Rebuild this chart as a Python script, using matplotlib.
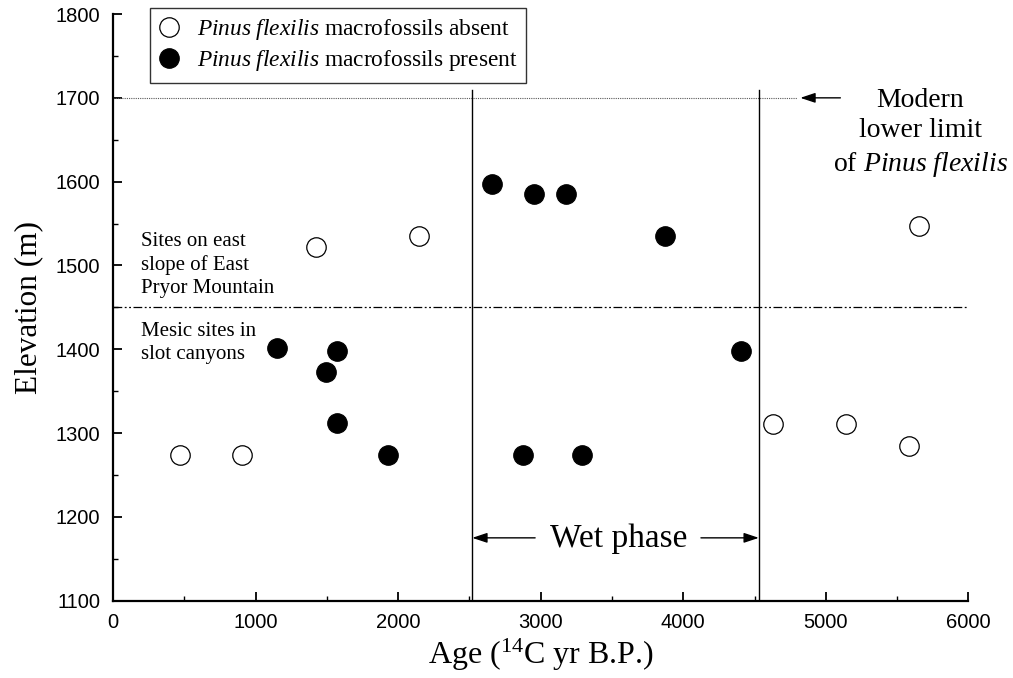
import matplotlib
matplotlib.use("Agg")
import matplotlib.pyplot as plt
from matplotlib.lines import Line2D

# ---- data ----
absent_age = [470, 905, 1425, 2147, 4632, 5144, 5581, 5656]
absent_elev = [1274, 1274, 1522, 1535, 1311, 1311, 1284, 1547]
present_age = [1149, 1570, 1495, 1570, 1930, 2662, 2954, 3177, 3869, 4407, 2877, 3291]
present_elev = [1401, 1398, 1373, 1312, 1274, 1597, 1585, 1585, 1535, 1398, 1274, 1274]
wet_phase = [2520, 4530]
modern_limit = 1700
site_boundary = 1450
xticks = [0, 1000, 2000, 3000, 4000, 5000, 6000]
yticks = [1100, 1200, 1300, 1400, 1500, 1600, 1700, 1800]

plt.rcParams['mathtext.fontset'] = 'custom'
plt.rcParams['mathtext.rm'] = 'Liberation Serif'
plt.rcParams['mathtext.it'] = 'Liberation Serif:italic'
plt.rcParams['mathtext.bf'] = 'Liberation Serif:bold'

SERIF = 'Liberation Serif'
SANS = 'Liberation Sans'

fig = plt.figure(figsize=(10.13, 6.78), dpi=100)
ax = fig.add_axes([0.1115, 0.114, 0.8445, 0.8653])

ax.set_xlim(0, 6000)
ax.set_ylim(1100, 1800)

# reference lines
ax.plot([0, 4800], [modern_limit, modern_limit], color='0.35', lw=0.8,
        linestyle=(0, (1, 1)))
ax.plot([0, 6000], [site_boundary, site_boundary], color='black', lw=0.9,
        linestyle=(0, (7, 2, 1.5, 2, 1.5, 2)), clip_on=False)
for xv in wet_phase:
    ax.plot([xv, xv], [1100, 1709], color='black', lw=1.0)

# points
ax.plot(absent_age, absent_elev, linestyle='none', marker='o', markersize=14,
        markerfacecolor='white', markeredgecolor='black', markeredgewidth=0.9,
        zorder=5)
ax.plot(present_age, present_elev, linestyle='none', marker='o', markersize=14,
        markerfacecolor='black', markeredgecolor='black', markeredgewidth=0.9,
        zorder=5)

# axes styling
for s in ['top', 'right']:
    ax.spines[s].set_visible(False)
for s in ['left', 'bottom']:
    ax.spines[s].set_linewidth(1.6)
ax.set_xticks(xticks)
ax.set_yticks(yticks)
ax.set_xticks([500, 1500, 2500, 3500, 4500, 5500], minor=True)
ax.set_yticks([1150, 1250, 1350, 1450, 1550, 1650, 1750], minor=True)
ax.tick_params(which='major', direction='in', length=6.5, width=1.3, pad=9,
               labelsize=14.5)
ax.tick_params(which='minor', direction='in', length=3.5, width=1.0)
for lab in ax.get_xticklabels() + ax.get_yticklabels():
    lab.set_fontfamily(SANS)

ax.set_xlabel('Age ($^{14}$C yr B.P.)', fontfamily=SERIF, fontsize=23, labelpad=3)
ax.set_ylabel('Elevation (m)', fontfamily=SERIF, fontsize=22.5, labelpad=9)

# annotations
ax.text(200, 1540, 'Sites on east\nslope of East\nPryor Mountain', ha='left',
        va='top', fontfamily=SERIF, fontsize=15, linespacing=1.27)
ax.text(200, 1433, 'Mesic sites in\nslot canyons', ha='left', va='top',
        fontfamily=SERIF, fontsize=15, linespacing=1.3)

ax.text(5663, 1712, 'Modern\nlower limit\nof $\\it{Pinus\\ flexilis}$', ha='center',
        va='top', fontfamily=SERIF, fontsize=20, linespacing=1.3,
        multialignment='center', clip_on=False)
ax.annotate('', xy=(4821, modern_limit), xytext=(5102, modern_limit),
            arrowprops=dict(arrowstyle='-|>,head_length=0.9,head_width=0.3',
                            color='black', lw=1.0, shrinkA=0, shrinkB=0))

ax.text(3547, 1164, 'Wet phase', ha='center', va='baseline', fontfamily=SERIF,
        fontsize=24)
ax.annotate('', xy=(wet_phase[0], 1175), xytext=(2961, 1175),
            arrowprops=dict(arrowstyle='-|>,head_length=0.9,head_width=0.3',
                            color='black', lw=1.0, shrinkA=0, shrinkB=0))
ax.annotate('', xy=(wet_phase[1], 1175), xytext=(4124, 1175),
            arrowprops=dict(arrowstyle='-|>,head_length=0.9,head_width=0.3',
                            color='black', lw=1.0, shrinkA=0, shrinkB=0))

# legend
handles = [
    Line2D([], [], linestyle='none', marker='o', markersize=14,
           markerfacecolor='white', markeredgecolor='black', markeredgewidth=0.9),
    Line2D([], [], linestyle='none', marker='o', markersize=14,
           markerfacecolor='black', markeredgecolor='black', markeredgewidth=0.9),
]
labels = ['$\\it{Pinus\\ flexilis}$ macrofossils absent',
          '$\\it{Pinus\\ flexilis}$ macrofossils present']
leg = ax.legend(handles, labels, loc='upper left', bbox_to_anchor=(0.0433, 1.0102),
                borderaxespad=0, frameon=True, fancybox=False, edgecolor='black',
                prop={'family': SERIF, 'size': 16.8}, handlelength=0.85,
                handletextpad=0.75, borderpad=0.4, labelspacing=0.25)
leg.get_frame().set_linewidth(1.0)

fig.savefig('out.png', dpi=100)
